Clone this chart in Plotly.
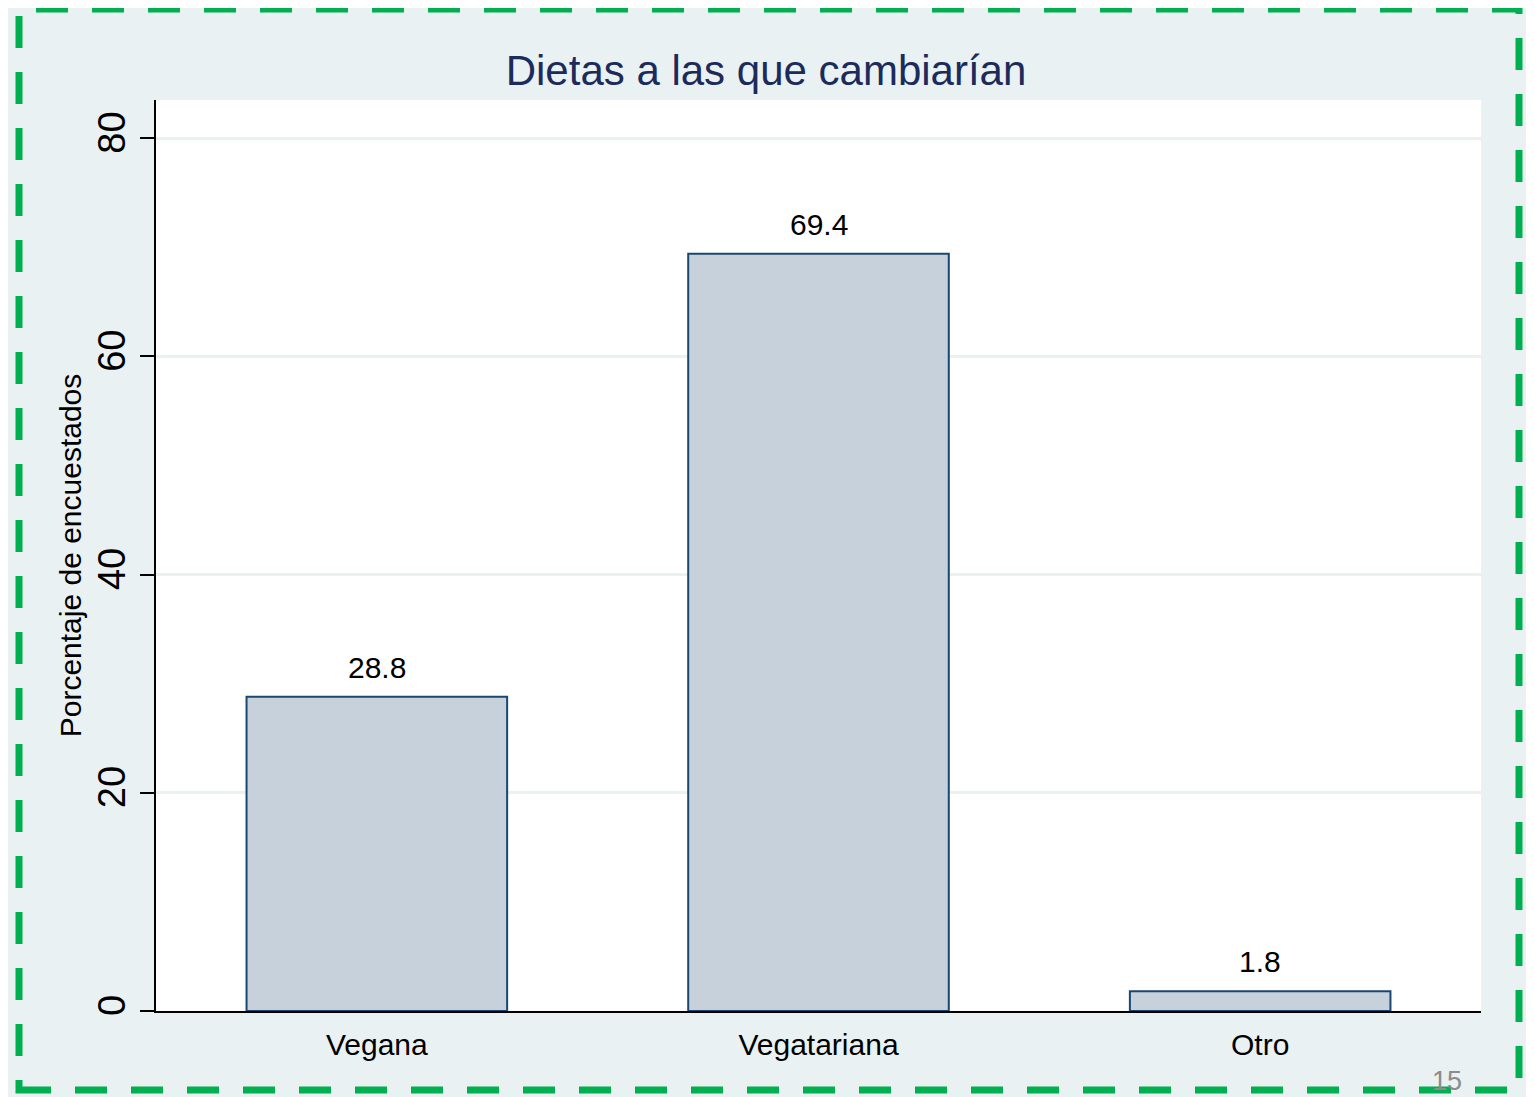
import plotly.graph_objects as go

# data
categories = ["Vegana", "Vegatariana", "Otro"]
percentages = [28.8, 69.4, 1.8]
y_ticks = [0, 20, 40, 60, 80]

BG = "#EAF1F3"
BAR_FILL = "#C6D1DB"
BAR_LINE = "#1A476F"
FONT = "Liberation Sans, Arial, sans-serif"

# the page puts the figure 8px in from the top-left corner
OFF = 8
PL, PR, PT, PB = 156, 1481, 100, 1011   # plot area in page pixels
PW, PH = PR - PL, PB - PT


def px_x(x):
    return (x - PL) / PW


def px_y(y):
    return (PB - y) / PH


fig = go.Figure()
fig.add_trace(go.Bar(
    x=categories,
    y=percentages,
    width=0.59,
    marker=dict(color=BAR_FILL, line=dict(color=BAR_LINE, width=2)),
    hoverinfo="x+y",
))

# value labels above the bars
for cat, val in zip(categories, percentages):
    fig.add_annotation(
        x=cat, y=val, text=f"{val:.1f}",
        showarrow=False, yanchor="bottom", yshift=11,
        font=dict(size=30, color="black", family=FONT),
    )

# slide page number
fig.add_annotation(
    xref="paper", yref="paper", x=px_x(1430), y=px_y(1098),
    xanchor="left", yanchor="bottom",
    text="15", showarrow=False, font=dict(size=27, color="#8C8C8C", family=FONT),
)

# green dashed frame
fig.add_shape(type="rect", xref="paper", yref="paper",
              x0=px_x(19), x1=px_x(1519),
              y0=px_y(1090), y1=px_y(9),
              line=dict(color="#00B050", width=7, dash="32px,24px"))

fig.update_layout(
    width=1534, height=1097,
    margin=dict(l=PL - OFF, r=1534 - PR + OFF, t=PT - OFF, b=1097 - PB + OFF),
    paper_bgcolor=BG,
    plot_bgcolor="white",
    showlegend=False,
    font=dict(family=FONT, color="black"),
    title=dict(
        text="Dietas a las que cambiarían",
        x=px_x(766), xref="paper", xanchor="center",
        y=1 - (70 - OFF) / 1097, yanchor="middle",
        font=dict(size=42, color="#1A2B5C", family=FONT),
    ),
)

fig.update_xaxes(
    showline=True, linecolor="black", linewidth=2,
    ticks="", tickfont=dict(size=30, family=FONT),
    ticklabelstandoff=6,
    showgrid=False,
)
fig.update_yaxes(
    range=[0, 83.5],
    tickvals=y_ticks,
    tickangle=-90,
    tickfont=dict(size=38, family=FONT),
    ticks="outside", ticklen=14, tickwidth=2, tickcolor="black",
    showline=True, linecolor="black", linewidth=2,
    showgrid=True, gridcolor=BG, gridwidth=3,
    zeroline=False,
    title=dict(text="Porcentaje de encuestados",
               font=dict(size=30, family=FONT), standoff=0),
)

fig.write_html("out.html")
